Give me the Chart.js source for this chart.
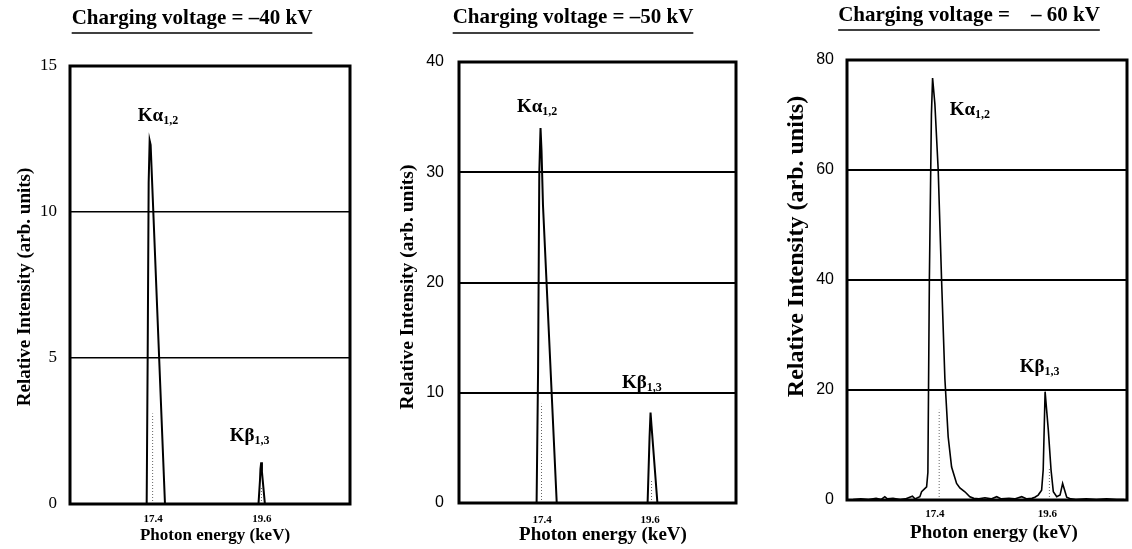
<!DOCTYPE html>
<html>
<head>
<meta charset="utf-8">
<script src="https://cdn.jsdelivr.net/npm/chart.js@4.4.1/dist/chart.umd.min.js"></script>
<style>
html,body{margin:0;padding:0;background:#fff;width:1132px;height:549px;overflow:hidden;}
canvas{position:absolute;top:0;}
</style>
</head>
<body>
<canvas id="c1"></canvas>
<canvas id="c2"></canvas>
<canvas id="c3"></canvas>
<script>
// ---------------- DATA ----------------
const xTickValues = [17.4, 19.6];
const xTickLabels = ['17.4', '19.6'];
const panelTitles = ['Charging voltage = \u201340 kV', 'Charging voltage = \u201350 kV', 'Charging voltage =    \u2013 60 kV'];
const yAxisTitle = 'Relative Intensity (arb. units)';
const xAxisTitle = 'Photon energy (keV)';
const yMaxes = [15, 40, 80];
const yStepSizes = [5, 10, 20];
const xMins = [15.72, 15.71, 15.68];
const xMaxes = [21.38, 21.35, 21.16];
const peakNames = ['K\u03b1', 'K\u03b2'];
const peakSubs = ['1,2', '1,3'];

// -40 kV spectrum
const energy40 = [15.72, 17.27, 17.29, 17.31, 17.33, 17.35, 17.64, 19.53, 19.56, 19.57, 19.585, 19.60, 19.66, 21.38];
const intensity40 = [0, 0, 5, 11, 12.45, 12.3, 0, 0, 0.8, 1.2, 1.43, 1.1, 0, 0];
const markerEnergy40 = [17.39, 19.59];
const markerTop40 = [3.1, 0.6];

// -50 kV spectrum
const energy50 = [15.71, 17.29, 17.32, 17.345, 17.37, 17.39, 17.42, 17.70, 19.55, 19.59, 19.61, 19.63, 19.75, 21.35];
const intensity50 = [0, 0, 12, 30, 34, 32, 27, 0, 0, 6, 8.2, 7, 0, 0];
const markerEnergy50 = [17.39, 19.63];
const markerTop50 = [9.0, 2.0];

// -60 kV spectrum
const energy60 = [15.80, 15.95, 16.10, 16.25, 16.35, 16.42, 16.47, 16.58, 16.72, 16.82, 16.96, 17.01, 17.06, 17.106, 17.14, 17.238, 17.263, 17.292, 17.332, 17.355, 17.40, 17.465, 17.531, 17.596, 17.66, 17.727, 17.825, 17.889, 17.987, 18.085, 18.16, 18.26, 18.38, 18.50, 18.61, 18.70, 18.85, 18.96, 19.10, 19.20, 19.30, 19.357, 19.422, 19.489, 19.52, 19.557, 19.62, 19.673, 19.718, 19.785, 19.85, 19.90, 19.948, 19.98, 20.06, 20.16, 20.36, 20.56, 20.76, 20.96, 21.10];
const intensity60 = [0.1, 0.2, 0.1, 0.3, 0.1, 0.6, 0.2, 0.3, 0.1, 0.2, 0.7, 0.2, 0.4, 0.6, 1.5, 2.4, 5, 40, 70, 76.7, 72, 60, 40, 22, 11.5, 6, 3, 2.2, 1.5, 0.6, 0.3, 0.2, 0.4, 0.2, 0.6, 0.2, 0.3, 0.2, 0.6, 0.2, 0.3, 0.5, 0.9, 1.8, 5.5, 19.7, 12.7, 5.5, 1.5, 0.6, 0.9, 3.0, 1.5, 0.5, 0.2, 0.1, 0.2, 0.1, 0.2, 0.1, 0.1];
const markerEnergy60 = [17.484, 19.641];
const markerTop60 = [16.4, 6.0];

const spectra = [
  {energy: energy40, intensity: intensity40, mE: markerEnergy40, mT: markerTop40},
  {energy: energy50, intensity: intensity50, mE: markerEnergy50, mT: markerTop50},
  {energy: energy60, intensity: intensity60, mE: markerEnergy60, mT: markerTop60}
];

// ---------------- LAYOUT / STYLE ----------------
const SERIF = '"Liberation Serif", "DejaVu Serif", serif';
const SANS = '"Liberation Sans", Arial, sans-serif';
const layouts = [
  {id: 'c1', left: 0, width: 354, padRight: 4, yAxisW: 70, xAxisH: 45,
   titleSize: 21, titlePad: {top: 6.4, bottom: 34.4}, titleCenter: 192, underlineY: 33,
   yTickFamily: SERIF, yTickSize: 17, yTickPad: 13, yTitleSize: 19, yTitlePad: 13.6, yTitleDy: 2,
   xTickPad: 8.9, xTitleSize: 17, xTitlePad: 2.8, xTitleDx: 5, gridW: 1.5, lineW: 2,
   labels: [{x: 17.09, y: 13.12}, {x: 18.95, y: 2.16}]},
  {id: 'c2', left: 380, width: 360, padRight: 4, yAxisW: 79, xAxisH: 46,
   titleSize: 21, titlePad: {top: 5.4, bottom: 31.4}, titleCenter: 193, underlineY: 33,
   yTickFamily: SANS, yTickSize: 16, yTickPad: 15, yTitleSize: 19.5, yTitlePad: 16.3, yTitleDy: 4.5,
   xTickPad: 10.4, xTitleSize: 19, xTitlePad: 2.6, xTitleDx: 5.5, gridW: 2, lineW: 2,
   labels: [{x: 16.89, y: 35.45}, {x: 19.03, y: 10.45}]},
  {id: 'c3', left: 760, width: 372, padRight: 5, yAxisW: 87, xAxisH: 49,
   titleSize: 21, titlePad: {top: 3.4, bottom: 31.4}, titleCenter: 209, underlineY: 30,
   yTickFamily: SANS, yTickSize: 16, yTickPad: 13, yTitleSize: 24, yTitlePad: 22.6, yTitleDy: -33.5,
   xTickPad: 7.4, xTitleSize: 19, xTitlePad: 4.6, xTitleDx: 7, gridW: 2, lineW: 1.6,
   labels: [{x: 17.69, y: 70}, {x: 19.06, y: 23.3}]}
];

// ---------------- PLUGIN ----------------
const panelDecor = {
  id: 'panelDecor',
  afterLayout(chart, args, o) {
    const tb = chart.titleBlock;
    if (tb) {
      const shift = o.titleCenter - (tb.left + tb.right) / 2;
      tb.left += shift; tb.right += shift;
    }
  },
  beforeDraw(chart, args, o) {
    const ys = chart.scales.y, xs = chart.scales.x;
    if (!ys._shiftPatched) {
      const origY = ys.drawTitle.bind(ys);
      ys.drawTitle = function () { const c = this.ctx; c.save(); c.translate(0, o.yTitleDy); origY(); c.restore(); };
      ys._shiftPatched = true;
    }
    if (!xs._shiftPatched) {
      const origX = xs.drawTitle.bind(xs);
      xs.drawTitle = function () { const c = this.ctx; c.save(); c.translate(o.xTitleDx, 0); origX(); c.restore(); };
      xs._shiftPatched = true;
    }
  },
  afterDatasetsDraw(chart, args, o) {
    const {ctx, chartArea: a} = chart;
    ctx.save();
    ctx.strokeStyle = '#000';
    ctx.lineWidth = 3;
    ctx.strokeRect(a.left, a.top, a.right - a.left, a.bottom - a.top);
    const xs = chart.scales.x, ys = chart.scales.y;
    o.labels.forEach((lb, i) => {
      const px = xs.getPixelForValue(lb.x), py = ys.getPixelForValue(lb.y);
      ctx.fillStyle = '#000';
      ctx.textBaseline = 'alphabetic';
      ctx.textAlign = 'left';
      ctx.font = 'bold 19px ' + SERIF;
      ctx.fillText(peakNames[i], px, py);
      const w = ctx.measureText(peakNames[i]).width;
      ctx.font = 'bold 12px ' + SERIF;
      ctx.fillText(peakSubs[i], px + w, py + 3);
    });
    ctx.restore();
  },
  afterDraw(chart, args, o) {
    const tb = chart.titleBlock;
    const ctx = chart.ctx;
    ctx.save();
    ctx.font = 'bold ' + o.titleSize + 'px ' + SERIF;
    const w = ctx.measureText(o.titleText).width;
    const cx = (tb.left + tb.right) / 2;
    ctx.strokeStyle = '#000';
    ctx.lineWidth = 1.6;
    ctx.beginPath();
    ctx.moveTo(cx - w / 2, o.underlineY);
    ctx.lineTo(cx + w / 2, o.underlineY);
    ctx.stroke();
    ctx.restore();
  }
};

// ---------------- CHARTS ----------------
layouts.forEach((L, i) => {
  const cv = document.getElementById(L.id);
  cv.width = L.width; cv.height = 549;
  cv.style.left = L.left + 'px';
  cv.style.width = L.width + 'px'; cv.style.height = '549px';
  const S = spectra[i];
  const curve = S.energy.map((x, k) => ({x: x, y: S.intensity[k]}));
  const markers = [];
  S.mE.forEach((e, k) => {
    markers.push({x: e, y: 0}, {x: e, y: S.mT[k]}, {x: e, y: null});
  });
  new Chart(cv, {
    type: 'line',
    data: {
      datasets: [
        {data: curve, borderColor: '#000', borderWidth: L.lineW, pointRadius: 0, tension: 0, fill: false},
        {data: markers, borderColor: '#666', borderWidth: 1, borderDash: [1, 2], pointRadius: 0, spanGaps: false, fill: false}
      ]
    },
    options: {
      responsive: false,
      animation: false,
      devicePixelRatio: 1,
      layout: {padding: {left: 0, right: L.padRight, top: 0, bottom: 0}},
      plugins: {
        legend: {display: false},
        tooltip: {enabled: false},
        title: {
          display: true, text: panelTitles[i], color: '#000',
          font: {family: SERIF, size: L.titleSize, weight: 'bold', lineHeight: 1.2},
          padding: L.titlePad
        },
        panelDecor: {
          titleCenter: L.titleCenter, underlineY: L.underlineY, titleSize: L.titleSize,
          titleText: panelTitles[i], yTitleDy: L.yTitleDy, xTitleDx: L.xTitleDx, labels: L.labels
        }
      },
      scales: {
        x: {
          type: 'linear', min: xMins[i], max: xMaxes[i],
          afterBuildTicks: (s) => { s.ticks = xTickValues.map(v => ({value: v})); },
          afterFit: (s) => { s.height = L.xAxisH; },
          grid: {display: false, drawTicks: false},
          border: {display: false},
          ticks: {
            color: '#000', padding: L.xTickPad, maxRotation: 0, autoSkip: false,
            font: {family: SERIF, size: 11, weight: 'bold'},
            callback: (v) => { const k = xTickValues.indexOf(v); return k >= 0 ? xTickLabels[k] : ''; }
          },
          title: {
            display: true, text: xAxisTitle, color: '#000',
            font: {family: SERIF, size: L.xTitleSize, weight: 'bold', lineHeight: 1.2},
            padding: {top: 0, bottom: L.xTitlePad}
          }
        },
        y: {
          min: 0, max: yMaxes[i],
          afterFit: (s) => { s.width = L.yAxisW; },
          grid: {color: '#000', lineWidth: L.gridW, drawTicks: false},
          border: {display: false},
          ticks: {
            stepSize: yStepSizes[i], color: '#000', padding: L.yTickPad,
            font: {family: L.yTickFamily, size: L.yTickSize}
          },
          title: {
            display: true, text: yAxisTitle, color: '#000',
            font: {family: SERIF, size: L.yTitleSize, weight: 'bold', lineHeight: 1.2},
            padding: {top: L.yTitlePad, bottom: 0}
          }
        }
      }
    },
    plugins: [panelDecor]
  });
});
</script>
</body>
</html>
